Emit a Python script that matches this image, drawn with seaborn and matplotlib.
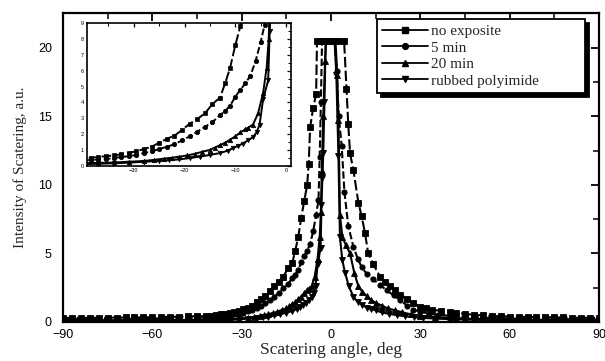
import numpy as np
import pandas as pd
import matplotlib
matplotlib.use("Agg")
import matplotlib.pyplot as plt
from matplotlib.lines import Line2D
from matplotlib.ticker import MultipleLocator
import seaborn as sns

# ---------------- data ----------------
series_names = ["no exposite", "5 min", "20 min", "rubbed polyimide"]

# no exposite
ne_left_x = [-90, -87, -84, -81, -78, -75, -72, -69, -66, -63, -60, -57, -54, -51, -48, -45, -42,
             -40, -38.5, -37, -35.5, -34, -32.5, -31, -29.5, -28, -26.5, -25, -23.5, -22, -20.5, -19, -17.5,
             -16, -14.5, -13, -12, -11, -10, -9, -8, -7.5, -7, -6, -5, -4.7, -3, -1.5, -0.3]
ne_left_y = [0.30, 0.30, 0.30, 0.31, 0.31, 0.32, 0.32, 0.33, 0.33, 0.34, 0.35, 0.36, 0.38, 0.39, 0.41, 0.42, 0.44,
             0.45, 0.50, 0.55, 0.60, 0.65, 0.72, 0.80, 0.92, 1.05, 1.20, 1.45, 1.70, 1.90, 2.25, 2.65, 2.95,
             3.3, 3.9, 4.3, 5.2, 6.2, 7.6, 8.8, 10.0, 11.5, 14.2, 15.6, 16.6, 20.5, 20.5, 20.5, 20.5]
ne_right_x = [0.6, 2.5, 4.4, 5.2, 5.8, 6.4, 7.5, 9.2, 10.3, 11.4, 12.5, 14.2, 16.5, 18, 19.8, 21.5, 23.2, 25.5, 27.6,
              30, 32, 34, 37, 40, 42, 45, 48, 51, 54, 57, 60, 63, 66, 69, 72, 75, 78, 81, 84, 87, 90]
ne_right_y = [20.5, 20.5, 20.5, 17.0, 14.4, 12.3, 11.1, 8.7, 7.7, 6.5, 5.0, 4.2, 3.3, 2.95, 2.6, 2.3, 2.0, 1.7, 1.4,
              1.1, 1.0, 0.9, 0.8, 0.72, 0.66, 0.60, 0.52, 0.48, 0.44, 0.42, 0.40, 0.38, 0.37, 0.36, 0.35, 0.34, 0.33, 0.32, 0.31, 0.31, 0.30]

# 5 min
m5_left_x = [-90, -87, -84, -81, -78, -75, -72, -69, -66, -63, -60, -57, -54, -51, -48, -45, -42,
             -40, -38.5, -37, -35.5, -34, -32.5, -31, -29.5, -28, -26.5, -25, -23.5, -22, -20.5, -19, -17.5,
             -16, -14.5, -13, -12, -11, -10, -9, -8, -7, -6, -5, -4.2, -3.8, -3.4, -3.0, -1.5, -0.3]
m5_left_y = [0.20, 0.20, 0.21, 0.21, 0.22, 0.22, 0.23, 0.23, 0.24, 0.24, 0.25, 0.27, 0.28, 0.30, 0.31, 0.32, 0.33,
             0.34, 0.36, 0.39, 0.42, 0.48, 0.55, 0.60, 0.68, 0.80, 0.90, 1.05, 1.20, 1.35, 1.60, 1.85, 2.15,
             2.45, 2.75, 3.2, 3.45, 3.8, 4.35, 4.8, 5.2, 5.7, 6.6, 7.8, 8.9, 12.0, 16.0, 20.5, 20.5, 20.5]
m5_right_x = [0.6, 1.2, 1.9, 2.6, 3.6, 4.5, 5.8, 7.5, 9, 10.3, 12, 14.2, 16.5, 18.7, 21, 23.2, 25.5, 27.6,
              30, 33, 36, 40, 42, 45, 48, 51, 54, 57, 60, 63, 66, 69, 72, 75, 78, 81, 84, 87, 90]
m5_right_y = [20.5, 20.5, 18.3, 15.0, 12.8, 9.5, 7.0, 5.5, 4.6, 4.0, 3.5, 3.1, 2.7, 2.3, 1.95, 1.6, 1.2, 0.9,
              0.75, 0.6, 0.52, 0.45, 0.42, 0.38, 0.35, 0.31, 0.29, 0.27, 0.25, 0.24, 0.24, 0.23, 0.23, 0.22, 0.21, 0.21, 0.20, 0.20, 0.20]

# 20 min
m20_left_x = [-90, -87, -84, -81, -78, -75, -72, -69, -66, -63, -60, -57, -54, -51, -48, -45, -42,
              -40, -37, -34, -31, -28, -26, -24, -22.5, -21, -19.5, -18, -16.5, -15, -14, -13, -12, -11, -10,
              -9, -8, -7.5, -6.5, -5.5, -4.5, -3.8, -3.4, -3.1, -2.6, -2.0, -1.6, -1.0, -0.3]
m20_left_y = [0.12, 0.12, 0.12, 0.13, 0.13, 0.13, 0.13, 0.14, 0.14, 0.14, 0.14, 0.15, 0.15, 0.15, 0.15, 0.16, 0.16,
              0.16, 0.18, 0.20, 0.25, 0.30, 0.37, 0.45, 0.50, 0.57, 0.65, 0.75, 0.88, 1.0, 1.15, 1.3, 1.45, 1.65, 1.85,
              2.1, 2.3, 2.4, 2.6, 3.3, 4.6, 6.2, 8.0, 11.0, 15.0, 19.0, 20.5, 20.5, 20.5]
m20_right_x = [0.8, 1.5, 2.1, 2.5, 3.0, 3.8, 5.0, 6.4, 7.8, 9.2, 10.5, 12, 13.5, 15, 17, 19, 21.5, 24, 27, 30,
               35, 40, 42, 45, 48, 51, 54, 57, 60, 63, 66, 69, 72, 75, 78, 81, 84, 87, 90]
m20_right_y = [20.5, 20.5, 18.0, 14.7, 7.8, 6.2, 5.6, 5.0, 3.6, 2.6, 2.2, 1.9, 1.6, 1.4, 1.2, 1.0, 0.85, 0.7, 0.55, 0.45,
               0.36, 0.30, 0.28, 0.26, 0.23, 0.22, 0.20, 0.19, 0.18, 0.17, 0.17, 0.16, 0.16, 0.15, 0.14, 0.14, 0.13, 0.13, 0.13]

# rubbed polyimide
rp_left_x = [-90, -87, -84, -81, -78, -75, -72, -69, -66, -63, -60, -57, -54, -51, -48, -45, -42,
             -40, -37, -34, -31, -28, -25, -23, -21, -19, -17, -15, -13, -11.5, -10.5, -9.5, -8.5, -7.5,
             -6.5, -5.8, -5.2, -4.5, -3.5, -3.2, -2.9, -2.6, -2.2, -1.8, -1.0, -0.3]
rp_left_y = [0.08, 0.08, 0.08, 0.08, 0.09, 0.09, 0.09, 0.09, 0.10, 0.10, 0.10, 0.10, 0.10, 0.10, 0.10, 0.10, 0.10,
             0.10, 0.12, 0.15, 0.19, 0.25, 0.30, 0.35, 0.40, 0.48, 0.57, 0.68, 0.80, 0.95, 1.1, 1.25, 1.4, 1.6,
             1.8, 2.1, 2.6, 4.2, 5.4, 8.5, 10.5, 12.3, 16.0, 20.5, 20.5, 20.5]
rp_right_x = [0.6, 1.2, 1.8, 2.5, 3.0, 3.8, 4.7, 6.0, 7.5, 9, 10.5, 12, 13.5, 15, 17, 19.5, 22, 25, 28, 31, 35,
              40, 45, 48, 51, 54, 57, 60, 63, 66, 69, 72, 75, 78, 81, 84, 87, 90]
rp_right_y = [20.5, 20.5, 18.0, 12.1, 6.2, 4.5, 3.6, 2.6, 1.85, 1.45, 1.25, 1.05, 0.95, 0.85, 0.7, 0.6, 0.5, 0.42, 0.35, 0.3, 0.25,
              0.21, 0.18, 0.16, 0.15, 0.14, 0.13, 0.12, 0.12, 0.11, 0.11, 0.10, 0.10, 0.10, 0.10, 0.10, 0.10, 0.10]

x_ticks = [-90, -60, -30, 0, 30, 60, 90]
y_ticks = [0, 5, 10, 15, 20]
inset_x_ticks = [-30, -20, -10, 0]
inset_y_ticks = [0, 1, 2, 3, 4, 5, 6, 7, 8, 9]

# ---------------- build table ----------------
parts = []
for name, lx, ly, rx, ry in [
    (series_names[0], ne_left_x, ne_left_y, ne_right_x, ne_right_y),
    (series_names[1], m5_left_x, m5_left_y, m5_right_x, m5_right_y),
    (series_names[2], m20_left_x, m20_left_y, m20_right_x, m20_right_y),
    (series_names[3], rp_left_x, rp_left_y, rp_right_x, rp_right_y),
]:
    parts.append(pd.DataFrame({"angle": lx, "intensity": ly, "series": name, "side": "L"}))
    parts.append(pd.DataFrame({"angle": rx, "intensity": ry, "series": name, "side": "R"}))
df = pd.concat(parts, ignore_index=True)

# ---------------- style ----------------
sns.set_style("white")
plt.rcParams["font.family"] = ["Liberation Sans", "DejaVu Sans"]
plt.rcParams["axes.linewidth"] = 1.6

markers = ["s", "o", "^", "v"]
dashes = [(5, 1.6), (3.5, 1.4), "", ""]
palette = ["black"] * 4

fig = plt.figure(figsize=(6.05, 3.61), dpi=100)
W, H = 605.0, 361.0
ax = fig.add_axes([63 / W, (H - 322) / H, 536 / W, 308.7 / H])

sns.lineplot(data=df, x="angle", y="intensity", hue="series", style="series",
             units="side", estimator=None, sort=False,
             hue_order=series_names, style_order=series_names,
             palette=palette, markers=markers, dashes=dashes,
             markersize=3.8, linewidth=1.5, markeredgecolor="black",
             markeredgewidth=0.6, legend=False, ax=ax)

ax.set_xlim(-90, 90)
ax.set_ylim(0, 22.5)
ax.set_xticks(x_ticks)
ax.set_yticks(y_ticks)
ax.xaxis.set_minor_locator(MultipleLocator(15))
ax.yaxis.set_minor_locator(MultipleLocator(2.5))
ax.tick_params(which="both", direction="in", top=True, right=True, colors="black")
ax.tick_params(which="major", length=6, width=1.3, labelsize=9)
ax.tick_params(which="minor", length=4, width=1.1)
ax.tick_params(axis="y", pad=8)
ax.tick_params(axis="x", pad=5)
for s in ax.spines.values():
    s.set_color("black")
    s.set_linewidth(1.6)

ax.set_xlabel("Scatering angle, deg", family=["Liberation Serif", "DejaVu Serif"],
              fontsize=12.5, labelpad=1)
ax.set_ylabel("Intensity of Scatering, a.u.", family=["Liberation Serif", "DejaVu Serif"],
              fontsize=11)
ax.yaxis.set_label_coords(-0.068, 0.5)

# legend
handles = [Line2D([0], [0], color="black", lw=1.3, marker=m, markersize=4.2,
                  markerfacecolor="black", markeredgecolor="black")
           for m in markers]
leg_kw = dict(loc="upper left", bbox_to_anchor=(0.586, 0.722, 0.388, 0.259),
              mode="expand", borderaxespad=0, fancybox=False, frameon=True,
              edgecolor="black", facecolor="white", framealpha=1,
              prop={"family": ["Liberation Serif", "DejaVu Serif"], "size": 11},
              handlelength=3.0, handletextpad=0.15, labelspacing=0.18,
              borderpad=0.35)
try:
    leg = ax.legend(handles, series_names, shadow={"color": "black", "alpha": 1, "ox": 3, "oy": -3}, **leg_kw)
except Exception:
    leg = ax.legend(handles, series_names, shadow=True, **leg_kw)
leg.get_frame().set_linewidth(1.3)

# inset
axin = fig.add_axes([86.7 / W, (H - 165.7) / H, 204.3 / W, 142.4 / H])
sns.lineplot(data=df, x="angle", y="intensity", hue="series", style="series",
             units="side", estimator=None, sort=False,
             hue_order=series_names, style_order=series_names,
             palette=palette, markers=markers, dashes=dashes,
             markersize=3.2, linewidth=1.4, markeredgecolor="black",
             markeredgewidth=0.5, legend=False, ax=axin)
axin.set_xlim(-39.3, 1)
axin.set_ylim(0, 9)
axin.set_xticks(inset_x_ticks)
axin.set_yticks(inset_y_ticks)
axin.xaxis.set_minor_locator(MultipleLocator(5))
axin.yaxis.set_minor_locator(MultipleLocator(0.5))
axin.tick_params(which="both", direction="in", top=True, right=True, colors="black")
axin.tick_params(which="major", length=3, width=0.9, labelsize=4, pad=2)
axin.tick_params(which="minor", length=2, width=0.7)
axin.set_xlabel("")
axin.set_ylabel("")
for s in axin.spines.values():
    s.set_color("black")
    s.set_linewidth(1.2)

fig.savefig("out.png", dpi=100)
